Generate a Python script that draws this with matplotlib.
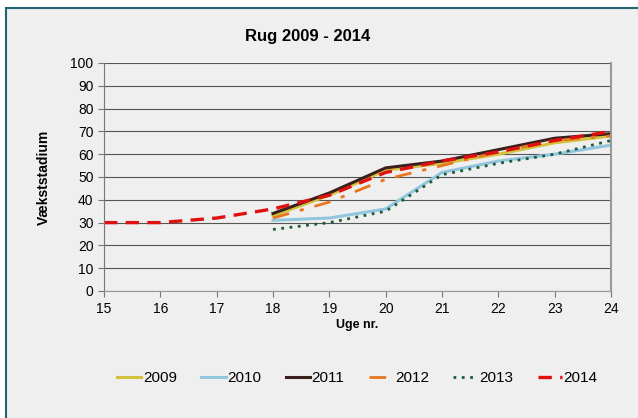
import matplotlib.pyplot as plt
from matplotlib.patches import Rectangle

plt.rcParams['font.family'] = ['Liberation Sans', 'DejaVu Sans']

weeks = [15, 16, 17, 18, 19, 20, 21, 22, 23, 24]
weeks_late = [18, 19, 20, 21, 22, 23, 24]

y2009 = [33, 42, 53, 56, 60, 65, 68]
y2010 = [31, 32, 36, 52, 57, 60, 64]
y2011 = [34, 43, 54, 57, 62, 67, 69]
y2012 = [32, 39, 49, 55, 61, 66, 68]
y2013 = [27, 30, 35, 51, 56, 60, 66]
y2014 = [30, 30, 32, 36, 42, 52, 57, 61, 66, 70]

bg = '#efefef'

fig = plt.figure(figsize=(6.38, 4.18), dpi=100)
fig.patch.set_facecolor('white')
# chart area frame
frame = Rectangle((6 / 638, -0.05), 1.0, 1 - 8 / 418 + 0.05,
                  transform=fig.transFigure, facecolor=bg,
                  edgecolor='#1f6470', linewidth=1.5, zorder=-5)
fig.patches.append(frame)

ax = fig.add_axes([104 / 638, 1 - 291 / 418, 507 / 638, 228 / 418])
ax.set_facecolor(bg)

ax.plot(weeks_late, y2009, color='#d4c23c', lw=2.2, label='2009')
ax.plot(weeks_late, y2010, color='#92c6df', lw=2.2, label='2010')
ax.plot(weeks_late, y2011, color='#3a1f1b', lw=2.2, label='2011')
ax.plot(weeks_late, y2012, color='#e8761f', lw=2.0, dashes=(6, 4, 1.5, 4), label='2012')
ax.plot(weeks_late, y2013, color='#1d5a36', lw=2.0, dashes=(1, 2), label='2013')
ax.plot(weeks, y2014, color='#e01010', lw=2.4, dashes=(4, 2.5), label='2014')

ax.set_xlim(15, 24)
ax.set_ylim(0, 100)
ax.set_xticks(range(15, 25))
ax.set_yticks(range(0, 101, 10))
ax.grid(axis='y', color='#555555', lw=0.8)
ax.set_axisbelow(True)
ax.spines['top'].set_visible(False)
ax.spines['right'].set_color('#999999')
ax.spines['right'].set_linewidth(1.5)
ax.spines['left'].set_color('#777777')
ax.spines['bottom'].set_color('#999999')
ax.tick_params(axis='both', labelsize=10, color='#777777', length=4)
ax.tick_params(axis='x', pad=4)

fig.text(308 / 638, 1 - 37 / 418, 'Rug 2009 - 2014', fontsize=12,
         fontweight='bold', ha='center', va='center')
ax.set_xlabel('Uge nr.', fontsize=9, fontweight='bold', labelpad=2)
ax.set_ylabel('Vækststadium', fontsize=10, fontweight='bold', labelpad=14)

fig.legend(loc='center', bbox_to_anchor=(0.56, 1 - 378 / 418), ncol=6,
           frameon=False, fontsize=11, handlelength=1.6, handletextpad=0.1,
           columnspacing=1.6)

fig.savefig('out.png', dpi=100, facecolor=fig.get_facecolor())
